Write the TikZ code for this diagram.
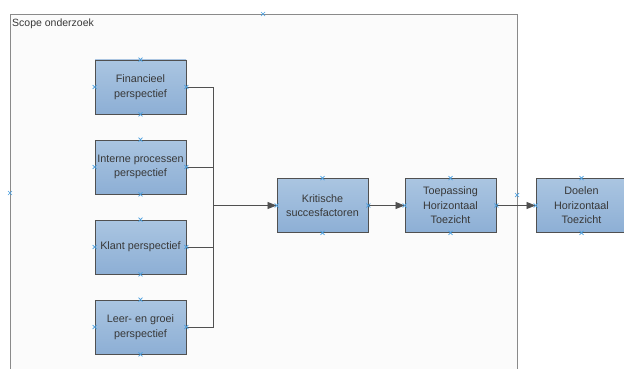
\documentclass[tikz,border=0pt]{standalone}
\usepackage{fontspec}
\setmainfont{Liberation Sans}
\usetikzlibrary{arrows.meta,calc}
\definecolor{boxtop}{HTML}{AAC5E1}
\definecolor{boxbot}{HTML}{8DAFD5}
\definecolor{boxline}{HTML}{505050}
\definecolor{txt}{HTML}{383838}
\definecolor{mark}{HTML}{4A9FE0}
\definecolor{cont}{HTML}{8A8A8A}
\tikzset{
  blok/.style={draw=boxline, line width=0.9pt, top color=boxtop, bottom color=boxbot,
    minimum width=91pt, minimum height=54pt, inner sep=1pt, align=center,
    text=txt, font=\fontsize{10.8}{14.5}\selectfont},
  verb/.style={draw=boxline, line width=0.8pt},
  pijl/.style={verb, -{Triangle[length=9pt,width=7pt]}},
  kruis/.style={draw=mark, line width=0.7pt}
}
\newcommand{\mkx}[1]{\draw[kruis] ($(#1)+(-2pt,-2pt)$) -- ($(#1)+(2pt,2pt)$) ($(#1)+(-2pt,2pt)$) -- ($(#1)+(2pt,-2pt)$);}
\begin{document}
\begin{tikzpicture}[x=1pt,y=-1pt]
\useasboundingbox (0,0) rectangle (624,369);
\clip (0,0) rectangle (624,369);
\fill[white] (0,0) rectangle (624,369);
% container
\draw[draw=cont, line width=1pt, fill={rgb,255:red,251;green,251;blue,251}] (10,15) rectangle (517,380);
\node[anchor=north west, inner sep=0pt, text=txt, font=\fontsize{10.5}{12}\selectfont] (scope) at (12,18.5) {Scope onderzoek};
\coordinate (ctop) at (263,14);
\coordinate (cleft) at (10,193);
\coordinate (cright) at (517,195);
% boxes
\node[blok] (fin) at (140.5,87) {Financieel\\perspectief};
\node[blok] (int) at (140.5,167) {Interne processen\\perspectief};
\node[blok] (kla) at (140.5,247) {Klant perspectief};
\node[blok] (lee) at (140.5,327) {Leer- en groei\\perspectief};
\node[blok] (kri) at (322.5,205.5) {Kritische\\succesfactoren};
\node[blok] (toe) at (450.5,205.5) {Toepassing\\Horizontaal\\Toezicht};
\node[blok] (doe) at (581.5,205.5) {Doelen\\Horizontaal\\Toezicht};
% connectors
\coordinate (bus) at (213,205.5);
\draw[verb] (fin.east) -| (bus);
\draw[verb] (int.east) -| (bus);
\draw[verb] (kla.east) -| (bus);
\draw[verb] (lee.east) -| (bus);
\draw[pijl] (bus) -- (kri.west);
\draw[pijl] (kri.east) -- (toe.west);
\draw[pijl] (toe.east) -- (doe.west);
% markers
\foreach \n in {fin,int,kla,lee,kri,toe,doe}{
  \foreach \a in {north,south,east,west}{\mkx{\n.\a}}
}
\mkx{ctop}\mkx{cleft}\mkx{cright}
\end{tikzpicture}
\end{document}
